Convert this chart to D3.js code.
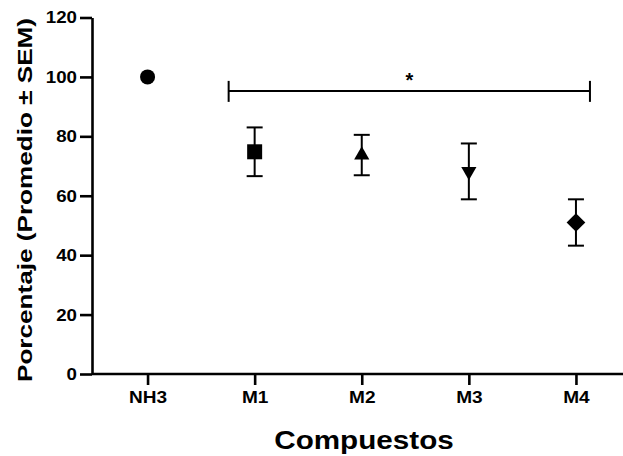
<!DOCTYPE html>
<html>
<head>
<meta charset="utf-8">
<script src="https://cdn.jsdelivr.net/npm/d3@7"></script>
<style>
  body { margin: 0; background: #fff; }
  text { font-family: "Liberation Sans", Arial, sans-serif; font-weight: bold; fill: #000; }
</style>
</head>
<body>
<div id="chart"></div>
<script>
// data
var categories = ["NH3", "M1", "M2", "M3", "M4"];
var means = [100, 74.8, 73.7, 68.2, 51];
var sems = [0, 8.2, 6.8, 9.4, 7.8];
var markers = ["circle", "square", "triangle", "triangleDown", "diamond"];
var yTicks = [0, 20, 40, 60, 80, 100, 120];
var sigLevel = 95.3;

var svgWidth = 623, svgHeight = 456;

var svg = d3.select("#chart").append("svg")
  .attr("width", svgWidth)
  .attr("height", svgHeight);

// scales
var x = d3.scalePoint().domain(categories).range([94, 629.5]).padding(0.5);
var y = d3.scaleLinear().domain([0, 120]).range([374, 17.5]);

// stretch text horizontally a bit, like the original export
function stretch(sel, k) {
  sel.each(function() {
    var len = this.getComputedTextLength();
    d3.select(this).attr("textLength", len * k).attr("lengthAdjust", "spacingAndGlyphs");
  });
}

// y axis
var yAxis = svg.append("g")
  .attr("transform", "translate(92,0)")
  .call(d3.axisLeft(y).tickValues(yTicks).tickSize(12).tickPadding(3).tickSizeOuter(0));
yAxis.select(".domain").attr("stroke-width", 2.6);
yAxis.selectAll(".tick line").attr("stroke-width", 2.6);
yAxis.selectAll(".tick text").style("font-size", "17px").call(stretch, 1.1);

// x axis
var xAxis = svg.append("g")
  .attr("transform", "translate(0,374)")
  .call(d3.axisBottom(x).tickSize(11).tickPadding(6).tickSizeOuter(0));
xAxis.select(".domain").remove();
xAxis.append("line")
  .attr("x1", 92).attr("x2", svgWidth)
  .attr("stroke", "#000").attr("stroke-width", 2.6);
xAxis.selectAll(".tick line").attr("stroke-width", 2.6);
xAxis.selectAll(".tick text").style("font-size", "17px").call(stretch, 1.12);

// axis titles
svg.append("text")
  .attr("x", 364).attr("y", 449)
  .attr("text-anchor", "middle")
  .style("font-size", "26px")
  .text("Compuestos")
  .call(stretch, 1.14);

svg.append("text")
  .attr("transform", "translate(32,200) rotate(-90)")
  .attr("text-anchor", "middle")
  .style("font-size", "21px")
  .attr("textLength", 364)
  .attr("lengthAdjust", "spacingAndGlyphs")
  .text("Porcentaje (Promedio \u00B1 SEM)");

// error bars
var rows = categories.map(function(c, i) {
  return { cat: c, mean: means[i], sem: sems[i], marker: markers[i] };
});

var err = svg.append("g").selectAll("g")
  .data(rows.filter(function(d) { return d.sem > 0; }))
  .enter().append("g")
  .attr("stroke", "#000").attr("stroke-width", 2);

err.append("line")
  .attr("x1", function(d) { return x(d.cat); })
  .attr("x2", function(d) { return x(d.cat); })
  .attr("y1", function(d) { return y(d.mean + d.sem); })
  .attr("y2", function(d) { return y(d.mean - d.sem); });
err.append("line")
  .attr("x1", function(d) { return x(d.cat) - 8; })
  .attr("x2", function(d) { return x(d.cat) + 8; })
  .attr("y1", function(d) { return y(d.mean + d.sem); })
  .attr("y2", function(d) { return y(d.mean + d.sem); });
err.append("line")
  .attr("x1", function(d) { return x(d.cat) - 8; })
  .attr("x2", function(d) { return x(d.cat) + 8; })
  .attr("y1", function(d) { return y(d.mean - d.sem); })
  .attr("y2", function(d) { return y(d.mean - d.sem); });

// markers
var symbolFor = {
  circle: d3.symbol().type(d3.symbolCircle).size(177),
  square: d3.symbol().type(d3.symbolSquare).size(225),
  triangle: d3.symbol().type(d3.symbolTriangle).size(100),
  triangleDown: d3.symbol().type(d3.symbolTriangle).size(100),
  diamond: d3.symbol().type(d3.symbolSquare).size(175)
};
var rotFor = { circle: 0, square: 0, triangle: 0, triangleDown: 180, diamond: 45 };

svg.append("g").selectAll("path")
  .data(rows)
  .enter().append("path")
  .attr("d", function(d) { return symbolFor[d.marker](); })
  .attr("transform", function(d) {
    return "translate(" + x(d.cat) + "," + y(d.mean) + ") rotate(" + rotFor[d.marker] + ")";
  })
  .attr("fill", "#000");

// significance bar M1..M4
var sx1 = x("M1") - 26, sx2 = x("M4") + 14, sy = y(sigLevel);
var sig = svg.append("g").attr("stroke", "#000").attr("stroke-width", 2);
sig.append("line").attr("x1", sx1).attr("x2", sx2).attr("y1", sy).attr("y2", sy);
sig.append("line").attr("x1", sx1).attr("x2", sx1).attr("y1", sy - 10).attr("y2", sy + 11);
sig.append("line").attr("x1", sx2).attr("x2", sx2).attr("y1", sy - 10).attr("y2", sy + 11);
svg.append("text")
  .attr("x", (sx1 + sx2) / 2).attr("y", 87)
  .attr("text-anchor", "middle")
  .style("font-size", "20px")
  .text("*");
</script>
</body>
</html>
